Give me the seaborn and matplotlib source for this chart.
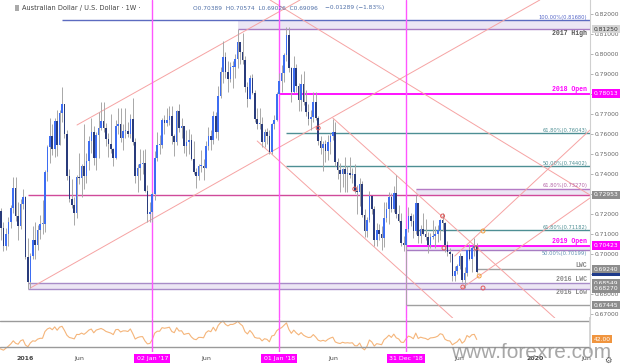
import numpy as np
import pandas as pd
import matplotlib
matplotlib.use("Agg")
import matplotlib.pyplot as plt
import matplotlib.dates as mdates
from matplotlib.patches import Rectangle
import seaborn as sns

# weekly AUD/USD candles, Monday 2015-10-19 .. 2019-07-22 (open = previous close)
first_open = 0.7275
week_close = [
    # 2015
    .7215, .7130, .7040, .7100, .7160, .7230, .7330, .7190, .7140, .7250, .7285,
    # 2016
    .6985, .6860, .6990, .7070, .7045, .7120, .7150, .7150, .7410, .7535, .7590, .7525, .7665,
    .7545, .7705, .7750, .7600, .7390, .7275, .7245, .7205, .7385, .7380, .7440, .7390, .7465,
    .7565, .7610, .7480, .7595, .7630, .7665, .7630, .7575, .7550, .7525, .7480, .7640, .7650,
    .7580, .7615, .7615, .7600, .7675, .7560, .7390, .7430, .7450, .7455, .7315, .7200, .7210,
    # 2017
    .7300, .7480, .7545, .7545, .7670, .7655, .7670, .7690, .7590, .7560, .7715, .7630, .7640,
    .7540, .7560, .7570, .7475, .7410, .7390, .7440, .7440, .7430, .7540, .7590, .7570, .7690,
    .7610, .7790, .7910, .7985, .7910, .7875, .7935, .7935, .7975, .8060, .8010, .7970, .7835,
    .7775, .7880, .7805, .7675, .7650, .7650, .7560, .7610, .7590, .7510, .7650, .7670, .7800,
    # 2018
    .7865, .7905, .7995, .8095, .7930, .7810, .7930, .7840, .7770, .7850, .7760, .7710, .7675,
    .7685, .7760, .7680, .7565, .7530, .7550, .7515, .7560, .7590, .7610, .7460, .7420, .7400,
    .7425, .7400, .7405, .7395, .7400, .7315, .7310, .7350, .7195, .7115, .7170, .7290, .7225,
    .7070, .7120, .7100, .7080, .7180, .7225, .7285, .7225, .7305, .7200, .7165, .7055, .7045,
    # 2019
    .7125, .7190, .7165, .7115, .7255, .7090, .7125, .7100, .7085, .7045, .7085, .7090, .7100,
    .7120, .7170, .7155, .7045, .7010, .7000, .6890, .6915, .6940, .6990, .6870, .6905, .7020,
    .6975, .7030, .70389, .69096,
]
week_high = [
    .7290, .7230, .7160, .7130, .7185, .7245, .7385, .7385, .7260, .7275, .7325,
    .7290, .7080, .7005, .7140, .7160, .7145, .7195, .7270, .7420, .7545, .7680, .7650, .7680,
    .7720, .7720, .7835, .7745, .7620, .7425, .7375, .7285, .7395, .7505, .7450, .7650, .7505,
    .7590, .7680, .7640, .7610, .7710, .7760, .7760, .7655, .7605, .7700, .7530, .7670, .7730,
    .7730, .7650, .7730, .7660, .7700, .7780, .7580, .7450, .7525, .7520, .7525, .7345, .7260,
    .7310, .7515, .7610, .7595, .7680, .7695, .7730, .7740, .7740, .7600, .7720, .7749, .7680,
    .7640, .7620, .7625, .7600, .7565, .7430, .7450, .7520, .7475, .7565, .7635, .7620, .7715,
    .7710, .7840, .7935, .8065, .8010, .7965, .7960, .7965, .8000, .8125, .8060, .8105, .7990,
    .7860, .7895, .7900, .7820, .7730, .7730, .7685, .7625, .7630, .7620, .7655, .7695, .7810,
    .7905, .7945, .8005, .8136, .8135, .7935, .7990, .7950, .7855, .7900, .7915, .7820, .7750,
    .7720, .7810, .7810, .7690, .7590, .7565, .7570, .7595, .7605, .7677, .7660, .7480, .7455,
    .7430, .7485, .7440, .7485, .7430, .7450, .7345, .7380, .7365, .7225, .7185, .7315, .7290,
    .7240, .7155, .7150, .7140, .7260, .7260, .7310, .7305, .7340, .7394, .7245, .7205, .7090,
    .7060, .7235, .7205, .7200, .7295, .7255, .7145, .7206, .7175, .7110, .7105, .7168, .7140,
    .7145, .7175, .7206, .7160, .7065, .7030, .7005, .6940, .6950, .7005, .6985, .6935, .7020,
    .7048, .7040, .7082, .70574,
]
week_low = [
    .7180, .7070, .7015, .7020, .7040, .7130, .7205, .7165, .7070, .7125, .7225,
    .6975, .6827, .6830, .6975, .6975, .7020, .7075, .7100, .7110, .7365, .7455, .7495, .7485,
    .7490, .7545, .7660, .7580, .7370, .7260, .7230, .7145, .7180, .7350, .7285, .7325, .7355,
    .7420, .7505, .7445, .7420, .7480, .7620, .7610, .7540, .7485, .7505, .7440, .7475, .7600,
    .7560, .7520, .7580, .7585, .7580, .7545, .7355, .7310, .7370, .7400, .7310, .7160, .7160,
    .7160, .7270, .7465, .7500, .7530, .7600, .7640, .7645, .7550, .7490, .7545, .7610, .7580,
    .7505, .7490, .7500, .7470, .7400, .7328, .7370, .7410, .7370, .7430, .7520, .7520, .7550,
    .7580, .7570, .7780, .7855, .7880, .7810, .7860, .7830, .7880, .7930, .7950, .7950, .7810,
    .7735, .7775, .7800, .7660, .7625, .7625, .7535, .7535, .7550, .7500, .7500, .7625, .7665,
    .7800, .7810, .7860, .7965, .7910, .7760, .7805, .7810, .7715, .7715, .7745, .7690, .7645,
    .7620, .7660, .7670, .7545, .7500, .7413, .7460, .7470, .7500, .7570, .7440, .7375, .7310,
    .7335, .7310, .7310, .7380, .7355, .7305, .7200, .7240, .7185, .7085, .7085, .7160, .7200,
    .7040, .7040, .7070, .7020, .7035, .7160, .7150, .7210, .7210, .7180, .7160, .7040, .7015,
    .67445, .7110, .7140, .7080, .7100, .7055, .7055, .7095, .7070, .7003, .7030, .7075, .7030,
    .7060, .7070, .7115, .7010, .6990, .6960, .6865, .6865, .6900, .6925, .6860, .6832, .6890,
    .6970, .6910, .6990, .69026,
]
# closes Jun 29 - Oct 12 2015, only used to warm up the RSI
warmup_close = [.7590, .7460, .7380, .7280, .7300, .7345, .7385, .7315, .7120, .6960,
                .7030, .7160, .6990, .7035, .7270, .7285]

# horizontal levels
level_price = [0.81680, 0.81250, 0.78013, 0.76043, 0.74402, 0.73270, 0.72953,
               0.71182, 0.70423, 0.70199, 0.69240, 0.68549, 0.68270, 0.67445]
level_start = ['2016-04-18', '2017-09-04', '2018-01-01', '2018-01-22', '2018-01-22', '2019-01-28',
               '2016-01-11', '2019-01-28', '2018-12-31', '2018-12-31', '2019-07-22', '2016-01-11',
               '2016-01-11', '2018-12-31']
level_label = ['100.00%(0.81680)', '2017 High', '2018 Open', '61.80%(0.76043)', '50.00%(0.74402)',
               '61.80%(0.73270)', '', '61.80%(0.71182)', '2019 Open', '50.00%(0.70199)', 'LWC',
               '2016 LWC', '2016 Low', '']
band_top = [0.81680, 0.73270, 0.70423, 0.68549]
band_bottom = [0.81250, 0.72953, 0.70199, 0.68270]
band_start = ['2017-09-04', '2019-01-28', '2018-12-31', '2016-01-11']

# price boxes on the right scale
box_price = [0.69096, 0.81250, 0.78013, 0.72953, 0.70423, 0.69240, 0.68549, 0.68270, 0.67445]

# trend lines (start date, start price) -> (end date, end price)
trend_start = ['2016-05-31', '2016-01-18', '2017-12-06', '2018-06-04', '2017-10-30', '2019-05-20', '2019-06-10']
trend_p0 = [0.7645, 0.6830, 0.8270, 0.7680, 0.7565, 0.6990, 0.6830]
trend_end = ['2018-03-02', '2020-01-19', '2020-06-11', '2020-03-02', '2019-05-14', '2020-06-11', '2020-06-11']
trend_p1 = [0.8270, 0.8270, 0.7295, 0.6680, 0.6680, 0.7620, 0.7280]

# touch markers
red_dates = ['2018-04-23', '2018-08-06', '2019-04-15', '2019-04-19', '2019-07-20', '2019-06-12', '2019-08-09']
red_prices = [0.7630, 0.7325, 0.7190, 0.7030, 0.7030, 0.6835, 0.6830]
orange_dates = ['2019-08-09', '2019-07-29']
orange_prices = [0.7115, 0.6890]

# marked weeks (vertical lines) and x labels
mark_dates = ['2017-01-02', '2018-01-01', '2018-12-31']
mark_labels = ["02 Jan '17", "01 Jan '18", "31 Dec '18"]
tick_dates = ['2016-01-04', '2016-06-06', '2017-06-05', '2018-06-04', '2019-06-03', '2020-01-06', '2020-06-01']
tick_labels = ['2016', 'Jun', 'Jun', 'Jun', 'Jun', '2020', 'Jun']
rsi_last = 42.00

sns.set_theme(style="white")
plt.rcParams['font.family'] = ['DejaVu Sans']

d = lambda s: mdates.date2num(pd.Timestamp(s))

dates = pd.date_range('2015-10-19', periods=len(week_close), freq='7D')
opens = [first_open] + week_close[:-1]
df = pd.DataFrame({'date': dates, 'open': opens, 'high': week_high,
                   'low': week_low, 'close': week_close})
df['x'] = mdates.date2num(df['date'])

# Wilder RSI(14)
closes = pd.Series(warmup_close + week_close)
delta = closes.diff()
gain = delta.clip(lower=0).ewm(alpha=1 / 14, adjust=False).mean()
loss = (-delta.clip(upper=0)).ewm(alpha=1 / 14, adjust=False).mean()
rsi = (100 - 100 / (1 + gain / loss)).iloc[len(warmup_close):].to_numpy()

W, H = 623, 364
fig = plt.figure(figsize=(W / 100, H / 100), dpi=100)
ax = fig.add_axes([0, 46 / H, 590 / W, 318 / H])
ax_rsi = fig.add_axes([0, 12 / H, 590 / W, 34 / H], sharex=ax)

x0, x1 = d('2015-10-23'), d('2020-06-11')
ax.set_xlim(x0, x1)
ax.set_ylim(0.668, 0.827)

# bands and levels
for top, bot, start in zip(band_top, band_bottom, band_start):
    ax.fill_between([d(start), x1], bot, top, color='#ece6f4', lw=0, zorder=1)

level_colour = ['#5c6bc0', '#a77cc2', '#ff00ff', '#4e8f94', '#4e8f94', '#b57ac5', '#d04a9a',
                '#4e8f94', '#ff00ff', '#a77cc2', '#a0a0a0', '#a88cc8', '#a88cc8', '#a0a0a0']
level_lw = [1.0, 1.0, 1.3, 1.0, 1.0, 1.0, 1.0, 1.0, 1.3, 1.0, 1.0, 1.0, 1.0, 1.0]
for p, start, c, lw in zip(level_price, level_start, level_colour, level_lw):
    ax.hlines(p, d(start), x1, color=c, lw=lw, zorder=2)

trans = ax.get_yaxis_transform()
label_colour = ['#5566c8', '#555555', '#ff00ff', '#4e8f94', '#4e8f94', '#b565a7', '',
                '#4e8f94', '#ff00ff', '#5f8fb0', '#888888', '#888888', '#888888', '']
label_bold = [False, True, True, False, False, False, False, False, True, False, True, True, True, False]
label_below = [False, True, False, False, False, False, False, False, False, True, False, False, True, False]
for p, text, c, bold, below in zip(level_price, level_label, label_colour, label_bold, label_below):
    if not text:
        continue
    kw = dict(family='Liberation Mono', fontweight='bold', fontsize=4.7) if bold else dict(fontsize=3.7)
    ax.text(0.995, p - 0.0003 if below else p + 0.0002, text, transform=trans, ha='right',
            va='top' if below else 'bottom', color=c, zorder=6, **kw)

# trend lines
for s0, p0, s1, p1 in zip(trend_start, trend_p0, trend_end, trend_p1):
    ax.plot([d(s0), d(s1)], [p0, p1], color='#f6a3a3', lw=0.7, zorder=2)

# candles
hi = np.maximum(df['high'], df[['open', 'close']].max(axis=1))
lo = np.minimum(df['low'], df[['open', 'close']].min(axis=1))
ax.vlines(df['x'], lo, hi, color='#a8a8a8', lw=0.7, zorder=3)
up = df['close'] >= df['open']
body = (df['close'] - df['open']).abs().clip(lower=0.0004)
bottom = df[['open', 'close']].min(axis=1)
ax.bar(df['x'][up], body[up], bottom=bottom[up], width=4.6, color='#3d6df2', lw=0, zorder=4)
ax.bar(df['x'][~up], body[~up], bottom=bottom[~up], width=4.6, color='#293b7b', lw=0, zorder=4)

ax.scatter([d(s) for s in red_dates], red_prices, s=8, facecolors='none',
           edgecolors='#e05a5a', linewidths=0.7, zorder=5)
ax.scatter([d(s) for s in orange_dates], orange_prices, s=8, facecolors='none',
           edgecolors='#f0a040', linewidths=0.7, zorder=5)

for m in mark_dates:
    ax.axvline(d(m), color='#ff55ff', lw=1, zorder=2.5)
    ax_rsi.axvline(d(m), color='#ff55ff', lw=1, zorder=2.5)

# right price scale
ax.yaxis.tick_right()
ax.set_yticks(np.arange(0.67, 0.8201, 0.01))
ax.yaxis.set_major_formatter(matplotlib.ticker.FormatStrFormatter('%.5f'))
ax.tick_params(axis='y', labelsize=4.3, labelcolor='#666666', color='#999999',
               length=2, width=0.5, pad=1.5)
ax.tick_params(axis='x', bottom=False, labelbottom=False)
for name, sp in ax.spines.items():
    sp.set_visible(name == 'right')
ax.spines['right'].set_color('#d0d0d0')
ax.spines['right'].set_linewidth(0.8)

box_fill = ['#1e3a8a', '#d4d4d4', '#ff00ff', '#8d8d8d', '#ff00ff', '#8d8d8d', '#8d8d8d', '#8d8d8d', '#8d8d8d']
box_text = ['#1e3a8a', '#333333', 'white', 'white', 'white', 'white', 'white', 'white', 'white']
for p, fc, tc in zip(box_price, box_fill, box_text):
    ax.text(1.006, p, f'{p:.5f}', transform=trans, ha='left', va='center', fontsize=4.3,
            color=tc, zorder=7, bbox=dict(boxstyle='square,pad=0.3', fc=fc, ec='none'))

# RSI pane
sns.lineplot(x=df['x'], y=rsi, ax=ax_rsi, color='#f5b57a', lw=0.8)
ax_rsi.axhline(70, color='#9a9a9a', lw=1)
ax_rsi.axhline(30, color='#9a9a9a', lw=1)
ax_rsi.set_ylim(22.3, 74.6)
ax_rsi.set_xlim(x0, x1)
ax_rsi.set_xlabel('')
ax_rsi.set_ylabel('')
ax_rsi.set_yticks([])
ax_rsi.tick_params(axis='x', bottom=False, labelbottom=False)
for name, sp in ax_rsi.spines.items():
    sp.set_visible(name == 'right')
ax_rsi.spines['right'].set_color('#d0d0d0')
ax_rsi.text(1.006, rsi_last, f'{rsi_last:.2f}', transform=ax_rsi.get_yaxis_transform(),
            ha='left', va='center', fontsize=4.3, color='white',
            bbox=dict(boxstyle='square,pad=0.3', fc='#f0953f', ec='none'))

xt = ax_rsi.get_xaxis_transform()
for s, lab in zip(tick_dates, tick_labels):
    ax_rsi.text(d(s), -0.2, lab, transform=xt, ha='center', va='center', fontsize=4.5,
                color='#444444', fontweight='bold' if lab[0].isdigit() else 'normal')
for s, lab in zip(mark_dates, mark_labels):
    ax_rsi.text(d(s), -0.2, lab, transform=xt, ha='center', va='center', fontsize=4.5,
                color='white', bbox=dict(boxstyle='square,pad=0.35', fc='#ff00ff', ec='none'))

# header
fig.add_artist(Rectangle((15 / W, 1 - 11 / H), 4 / W, 6 / H, transform=fig.transFigure,
                         fc='#aaaaaa', ec='none'))
fig.text(22 / W, 1 - 8 / H, 'Australian Dollar / U.S. Dollar · 1W ·', fontsize=4.8,
         color='#444444', va='center')
fig.text(193 / W, 1 - 8 / H, 'O0.70389  H0.70574  L0.69026  C0.69096', fontsize=4.2,
         color='#5070a8', va='center')
fig.text(325 / W, 1 - 8 / H, '\u22120.01289 (\u22121.83%)', fontsize=4.2,
         color='#5070a8', va='center')

fig.text(531 / W, 11 / H, 'www.forexre.com', fontsize=15, color='#8a8a8a', alpha=0.75,
         ha='center', va='center', family='Liberation Sans')
fig.text(608 / W, 4 / H, '\u2699', fontsize=6, color='#555555', ha='center', va='center')

fig.savefig('out.png', dpi=100)
